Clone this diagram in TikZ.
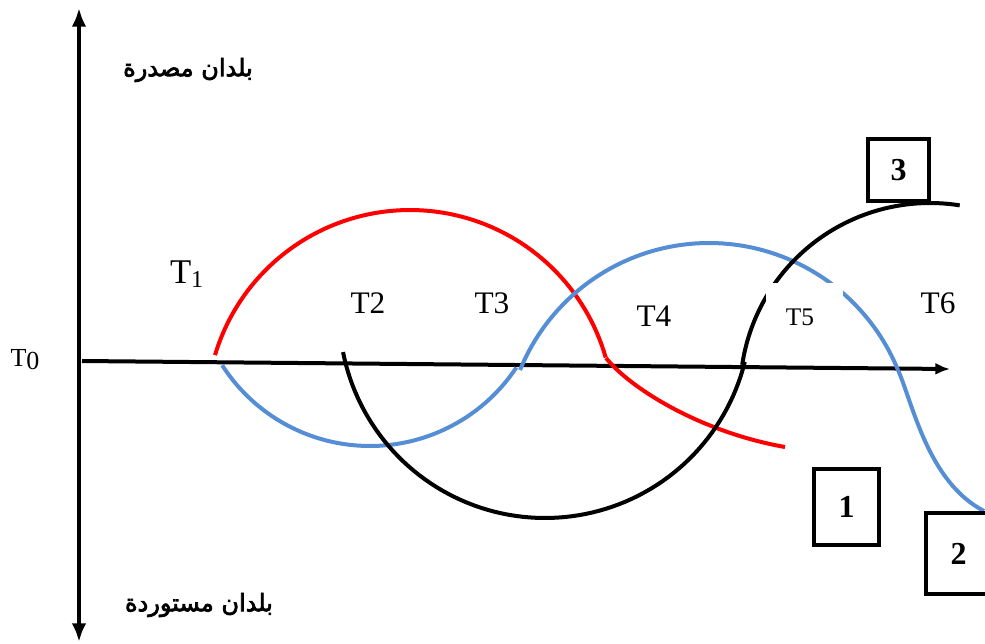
\documentclass[tikz,border=0pt]{standalone}
\usepackage{fontspec}
\setmainfont{Liberation Serif}
\newfontfamily\arabicfont[Script=Arabic,FakeBold=3]{DejaVu Sans}
\TeXXeTstate=1
\usetikzlibrary{arrows.meta}
\definecolor{myblue}{RGB}{85,142,213}
\begin{document}
\begin{tikzpicture}[x=0.75pt,y=-0.75pt,
  curve/.style={line width=3pt},
  axisline/.style={line width=3pt},
  tlabel/.style={font=\fontsize{23.5}{26}\selectfont, anchor=base, inner sep=0pt},
  arab/.style={font=\arabicfont\fontsize{18}{21}\selectfont, inner sep=0pt},
  numbox/.style={draw, line width=3pt, font=\fontsize{24}{26}\selectfont\bfseries, inner sep=0pt, minimum width=48.75pt}]
\useasboundingbox (0,0) rectangle (985,643);

% axes
\coordinate (vtop) at (79,8);
\coordinate (vbot) at (79,642);
\coordinate (hstart) at (82,361);
\coordinate (hend) at (950,369);
\draw[axisline, {Latex[length=14pt,width=11pt]}-{Latex[length=14pt,width=11pt]}] (vbot) -- (vtop);
\draw[axisline, -{Latex[length=11pt,width=9pt]}] (hstart) -- (hend);

% red curve
\draw[curve, red] plot[domain=196.7:344, samples=80] ({410+203.6*cos(\x)},{413.6+203.6*sin(\x)});
\draw[curve, red] (606,358) .. controls (630,388) and (700,432) .. (785,447);

% blue curve
\draw[curve, myblue] plot[domain=147.3:33.6, samples=80] ({370+175.7*cos(\x)},{270.3+175.7*sin(\x)});
\draw[curve, myblue] plot[domain=202.2:337.8, samples=90] ({709+204.1*cos(\x)},{447.1+204.1*sin(\x)});
\draw[curve, myblue] (898,370) .. controls (913,404) and (928,482) .. (984,511);

% black curve
\draw[curve, black] plot[domain=168.8:14, samples=80] ({545+205.9*cos(\x)},{312.1+205.9*sin(\x)});
\draw[curve, black] plot[domain=188.5:279, samples=80] ({930+189.9*cos(\x)},{392.9+189.9*sin(\x)});

% white patch behind T5
\fill[white] (766,283) rectangle (843,338);

% labels
\node[tlabel, font=\fontsize{19.5}{22}\selectfont] (t0) at (25,366) {T\raisebox{-2.5pt}{0}};
\node[tlabel, font=\fontsize{26}{28}\selectfont] (t1) at (187,283) {T\textsubscript{1}};
\node[tlabel] (t2) at (368,313) {T2};
\node[tlabel] (t3) at (492,313) {T3};
\node[tlabel] (t4) at (654,326) {T4};
\node[tlabel, font=\fontsize{19}{22}\selectfont] (t5) at (800,325) {T5};
\node[tlabel] (t6) at (938,313) {T6};

\node[arab] (exp) at (188,70) {\beginR بلدان مصدرة\endR};
\node[arab] (imp) at (199,605) {\beginR بلدان مستوردة\endR};

% boxes
\node[numbox, minimum height=57pt] (b1) at (846.5,507) {1};
\node[numbox, minimum height=60.75pt] (b2) at (958.5,553.5) {2};
\node[numbox, minimum width=45.75pt, minimum height=46.5pt] (b3) at (898.5,170) {3};
\end{tikzpicture}
\end{document}
